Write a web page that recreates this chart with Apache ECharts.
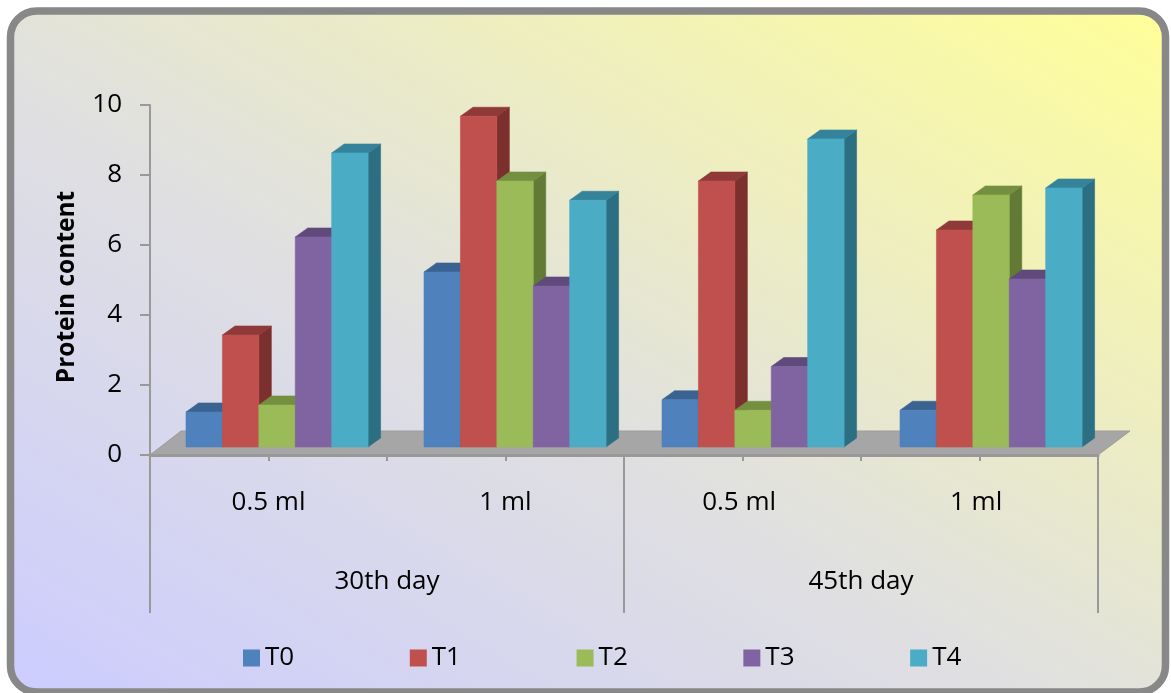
<!DOCTYPE html>
<html>
<head>
<meta charset="utf-8">
<style>html,body{margin:0;padding:0;background:#fff}#c{width:1171px;height:693px}</style>
<script src="https://cdn.jsdelivr.net/npm/echarts@6/dist/echarts.min.js"></script>
</head>
<body>
<div id="c"></div>
<script>
const categories = ['0.5 ml', '1 ml', '0.5 ml ', '1 ml '];
const groups = ['30th day', '45th day'];
const yTicks = [0, 10];
const T0 = [1.0, 5.0, 1.35, 1.05];
const T1 = [3.2, 9.45, 7.6, 6.2];
const T2 = [1.2, 7.6, 1.05, 7.2];
const T3 = [6.0, 4.6, 2.3, 4.8];
const T4 = [8.4, 7.05, 8.8, 7.4];
const seriesNames = ['T0', 'T1', 'T2', 'T3', 'T4'];
const seriesValues = [T0, T1, T2, T3, T4];
const front = ['#4f81bd', '#c0504d', '#9bbb59', '#8064a2', '#4bacc6'];
const topFace = ['#3b6391', '#8f3a38', '#748f40', '#5f4a7b', '#35839a'];
const sideFace = ['#315379', '#7b302e', '#627a36', '#4f3e67', '#2d6f82'];

const FONT = '"Open Sans", sans-serif';
const DX = 12.5, DY = -9;
const axisGrey = '#999999';

function renderBar(s) {
  return function (params, api) {
    const band = api.size([1, 0])[0];
    const w = band * 0.153;
    const p0 = api.coord([api.value(0), 0]);
    const p1 = api.coord([api.value(0), api.value(1)]);
    const x = p0[0] - band / 2 + band * 0.1513 + s * w;
    const yB = p0[1], yT = p1[1];
    const poly = (points, fill, stroke) => ({
      type: 'polygon',
      shape: { points },
      style: { fill, stroke: stroke || fill, lineWidth: 0.6 }
    });
    return {
      type: 'group',
      children: [
        poly([[x + w, yT], [x + w + DX, yT + DY], [x + w + DX, yB + DY], [x + w, yB]], sideFace[s]),
        poly([[x, yT], [x + DX, yT + DY], [x + w + DX, yT + DY], [x + w, yT]], topFace[s]),
        poly([[x, yT], [x + w, yT], [x + w, yB], [x, yB]], front[s])
      ]
    };
  };
}

function renderFloor(params, api) {
  const c = params.coordSys;
  const yF = api.coord([0, 0])[1];
  return {
    type: 'polygon',
    shape: { points: [[c.x, yF], [c.x + 31, yF - 24], [c.x + c.width + 32, yF - 24], [c.x + c.width, yF]] },
    style: { fill: '#a6a6a6', stroke: '#9c9c9c', lineWidth: 1 }
  };
}

const chart = echarts.init(document.getElementById('c'), null, { renderer: 'canvas' });
chart.setOption({
  animation: false,
  backgroundColor: '#ffffff',
  graphic: [{
    type: 'rect',
    z: -10,
    shape: { x: 10.5, y: 11, width: 1155, height: 681, r: 26 },
    style: {
      fill: new echarts.graphic.LinearGradient(288, 856, 886, -158, [
        { offset: 0, color: '#ccccff' },
        { offset: 0.45, color: '#e0e0e0' },
        { offset: 1, color: '#ffff99' }
      ], true),
      stroke: '#888888',
      lineWidth: 7.5
    }
  }],
  grid: [
    { left: 150, top: 105, width: 948, height: 350 },
    { left: 150, top: 97, width: 952, height: 350 }
  ],
  legend: {
    left: 243, top: 645,
    padding: 0,
    icon: 'rect',
    itemWidth: 17, itemHeight: 17,
    itemGap: 115.6,
    selectedMode: false,
    data: seriesNames,
    textStyle: { fontFamily: FONT, fontSize: 26, color: '#000' }
  },
  xAxis: [
    {
      type: 'category', gridIndex: 0, data: categories, z: 5,
      axisLine: { lineStyle: { color: axisGrey, width: 3 } },
      axisTick: { show: true, alignWithLabel: false, length: 6, lineStyle: { color: axisGrey, width: 2 } },
      axisLabel: { interval: 0, margin: 35, fontFamily: FONT, fontSize: 26, color: '#000' }
    },
    {
      type: 'category', gridIndex: 0, data: categories, position: 'bottom', z: 5,
      axisLine: { show: false },
      axisTick: { show: true, alignWithLabel: true, length: 6, lineStyle: { color: axisGrey, width: 2 } },
      axisLabel: { show: false }
    },
    {
      type: 'category', gridIndex: 0, data: groups, position: 'bottom', z: 5,
      axisLine: { show: false },
      axisTick: { show: true, length: 158, lineStyle: { color: axisGrey, width: 2 } },
      axisLabel: { interval: 0, margin: 114, fontFamily: FONT, fontSize: 26, color: '#000' }
    },
    { type: 'category', gridIndex: 1, data: categories, show: false }
  ],
  yAxis: [
    {
      type: 'value', gridIndex: 0, min: yTicks[0], max: yTicks[1], interval: 2, z: 5,
      name: 'Protein content',
      nameLocation: 'middle',
      nameGap: 70,
      nameTextStyle: { fontFamily: FONT, fontSize: 24.5, fontWeight: 'bold', color: '#000', padding: [0, 14, 0, 0] },
      axisLine: { show: true, lineStyle: { color: axisGrey, width: 2 } },
      axisTick: { show: true, length: 10, lineStyle: { color: axisGrey, width: 2 } },
      axisLabel: { margin: 28, fontFamily: FONT, fontSize: 26, color: '#000', padding: [6, 0, 0, 0] },
      splitLine: { show: false }
    },
    { type: 'value', gridIndex: 1, min: yTicks[0], max: yTicks[1], interval: 2, show: false, splitLine: { show: false } }
  ],
  series: [
    {
      type: 'custom', name: 'floor', xAxisIndex: 0, yAxisIndex: 0, z: 1,
      silent: true, renderItem: renderFloor, data: [[0, 0]], clip: false
    }
  ].concat(seriesValues.map((vals, s) => ({
    type: 'custom',
    name: seriesNames[s],
    xAxisIndex: 3,
    yAxisIndex: 1,
    z: 2,
    clip: false,
    itemStyle: { color: front[s] },
    renderItem: renderBar(s),
    encode: { x: 0, y: 1 },
    data: vals.map((v, i) => [i, v])
  })))
});
</script>
</body>
</html>
